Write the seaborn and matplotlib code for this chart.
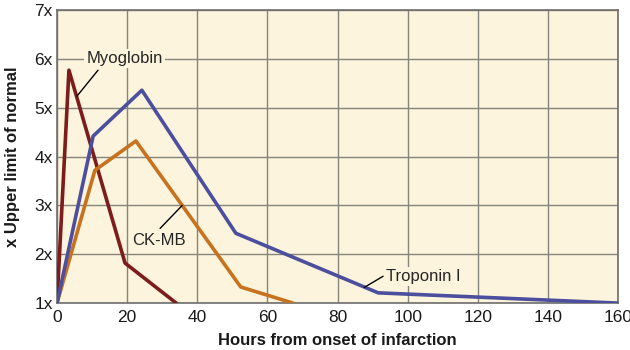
import matplotlib
matplotlib.use("Agg")
import matplotlib.pyplot as plt
import seaborn as sns
import pandas as pd

# Data
myo_hours = [0, 3.4, 19.4, 34]
myo_vals = [1.0, 5.77, 1.82, 1.0]
ckmb_hours = [0, 10.8, 22.5, 52.4, 67.3]
ckmb_vals = [1.0, 3.72, 4.32, 1.33, 1.0]
trop_hours = [0, 10.3, 24.2, 51, 91.6, 160]
trop_vals = [1.0, 4.42, 5.36, 2.43, 1.21, 1.0]
x_ticks = [0, 20, 40, 60, 80, 100, 120, 140, 160]
y_ticks = [1, 2, 3, 4, 5, 6, 7]
y_ticklabels = ["1x", "2x", "3x", "4x", "5x", "6x", "7x"]

df = pd.concat([
    pd.DataFrame({"hours": myo_hours, "value": myo_vals, "marker": "Myoglobin"}),
    pd.DataFrame({"hours": ckmb_hours, "value": ckmb_vals, "marker": "CK-MB"}),
    pd.DataFrame({"hours": trop_hours, "value": trop_vals, "marker": "Troponin I"}),
])

sns.set_theme(style="white")
plt.rcParams["font.family"] = ["Liberation Sans", "DejaVu Sans"]

bg = "#FCF4DC"
palette = {"Myoglobin": "#7D1C1C", "CK-MB": "#C7721F", "Troponin I": "#4B4F9E"}

fig = plt.figure(figsize=(6.3, 3.5), dpi=100)
ax = fig.add_axes([0.0905, 0.134, 0.8905, 0.837])
ax.set_facecolor(bg)

sns.lineplot(data=df, x="hours", y="value", hue="marker", palette=palette,
             linewidth=2.6, sort=False, estimator=None, legend=False, ax=ax,
             zorder=3)

ax.set_xlim(0, 160)
ax.set_ylim(1, 7)
ax.set_xticks(x_ticks)
ax.set_yticks(y_ticks)
ax.set_yticklabels(y_ticklabels)
ax.grid(True, color="#85857D", linewidth=1.0, zorder=0)
ax.set_axisbelow(True)
for s in ax.spines.values():
    s.set_color("#6E6E6E")
    s.set_linewidth(1.2)
ax.tick_params(length=0, labelsize=12.5, colors="#1A1A1A")
ax.tick_params(axis="x", pad=5)
ax.tick_params(axis="y", pad=3)
ax.set_xlabel("Hours from onset of infarction", fontsize=12, fontweight="bold",
              color="#1A1A1A", labelpad=6)
ax.set_ylabel("x Upper limit of normal", fontsize=12, fontweight="bold",
              color="#1A1A1A")
ax.yaxis.set_label_coords(-0.066, 0.5)

box = dict(facecolor=bg, edgecolor="none", pad=1.5)
ax.text(19.3, 6.0, "Myoglobin", fontsize=12, ha="center", va="center",
        bbox=box, zorder=5)
ax.plot([11.7, 5.7], [5.77, 5.24], color="black", lw=1, zorder=5)
ax.text(29.2, 2.29, "CK-MB", fontsize=12, ha="center", va="center",
        bbox=box, zorder=5)
ax.plot([29.4, 35.7], [2.53, 3.0], color="black", lw=1, zorder=5)
ax.text(104.4, 1.55, "Troponin I", fontsize=12, ha="center", va="center",
        bbox=box, zorder=5)
ax.plot([87.6, 93.0], [1.32, 1.55], color="black", lw=1, zorder=5)

fig.savefig("out.png", dpi=100)
